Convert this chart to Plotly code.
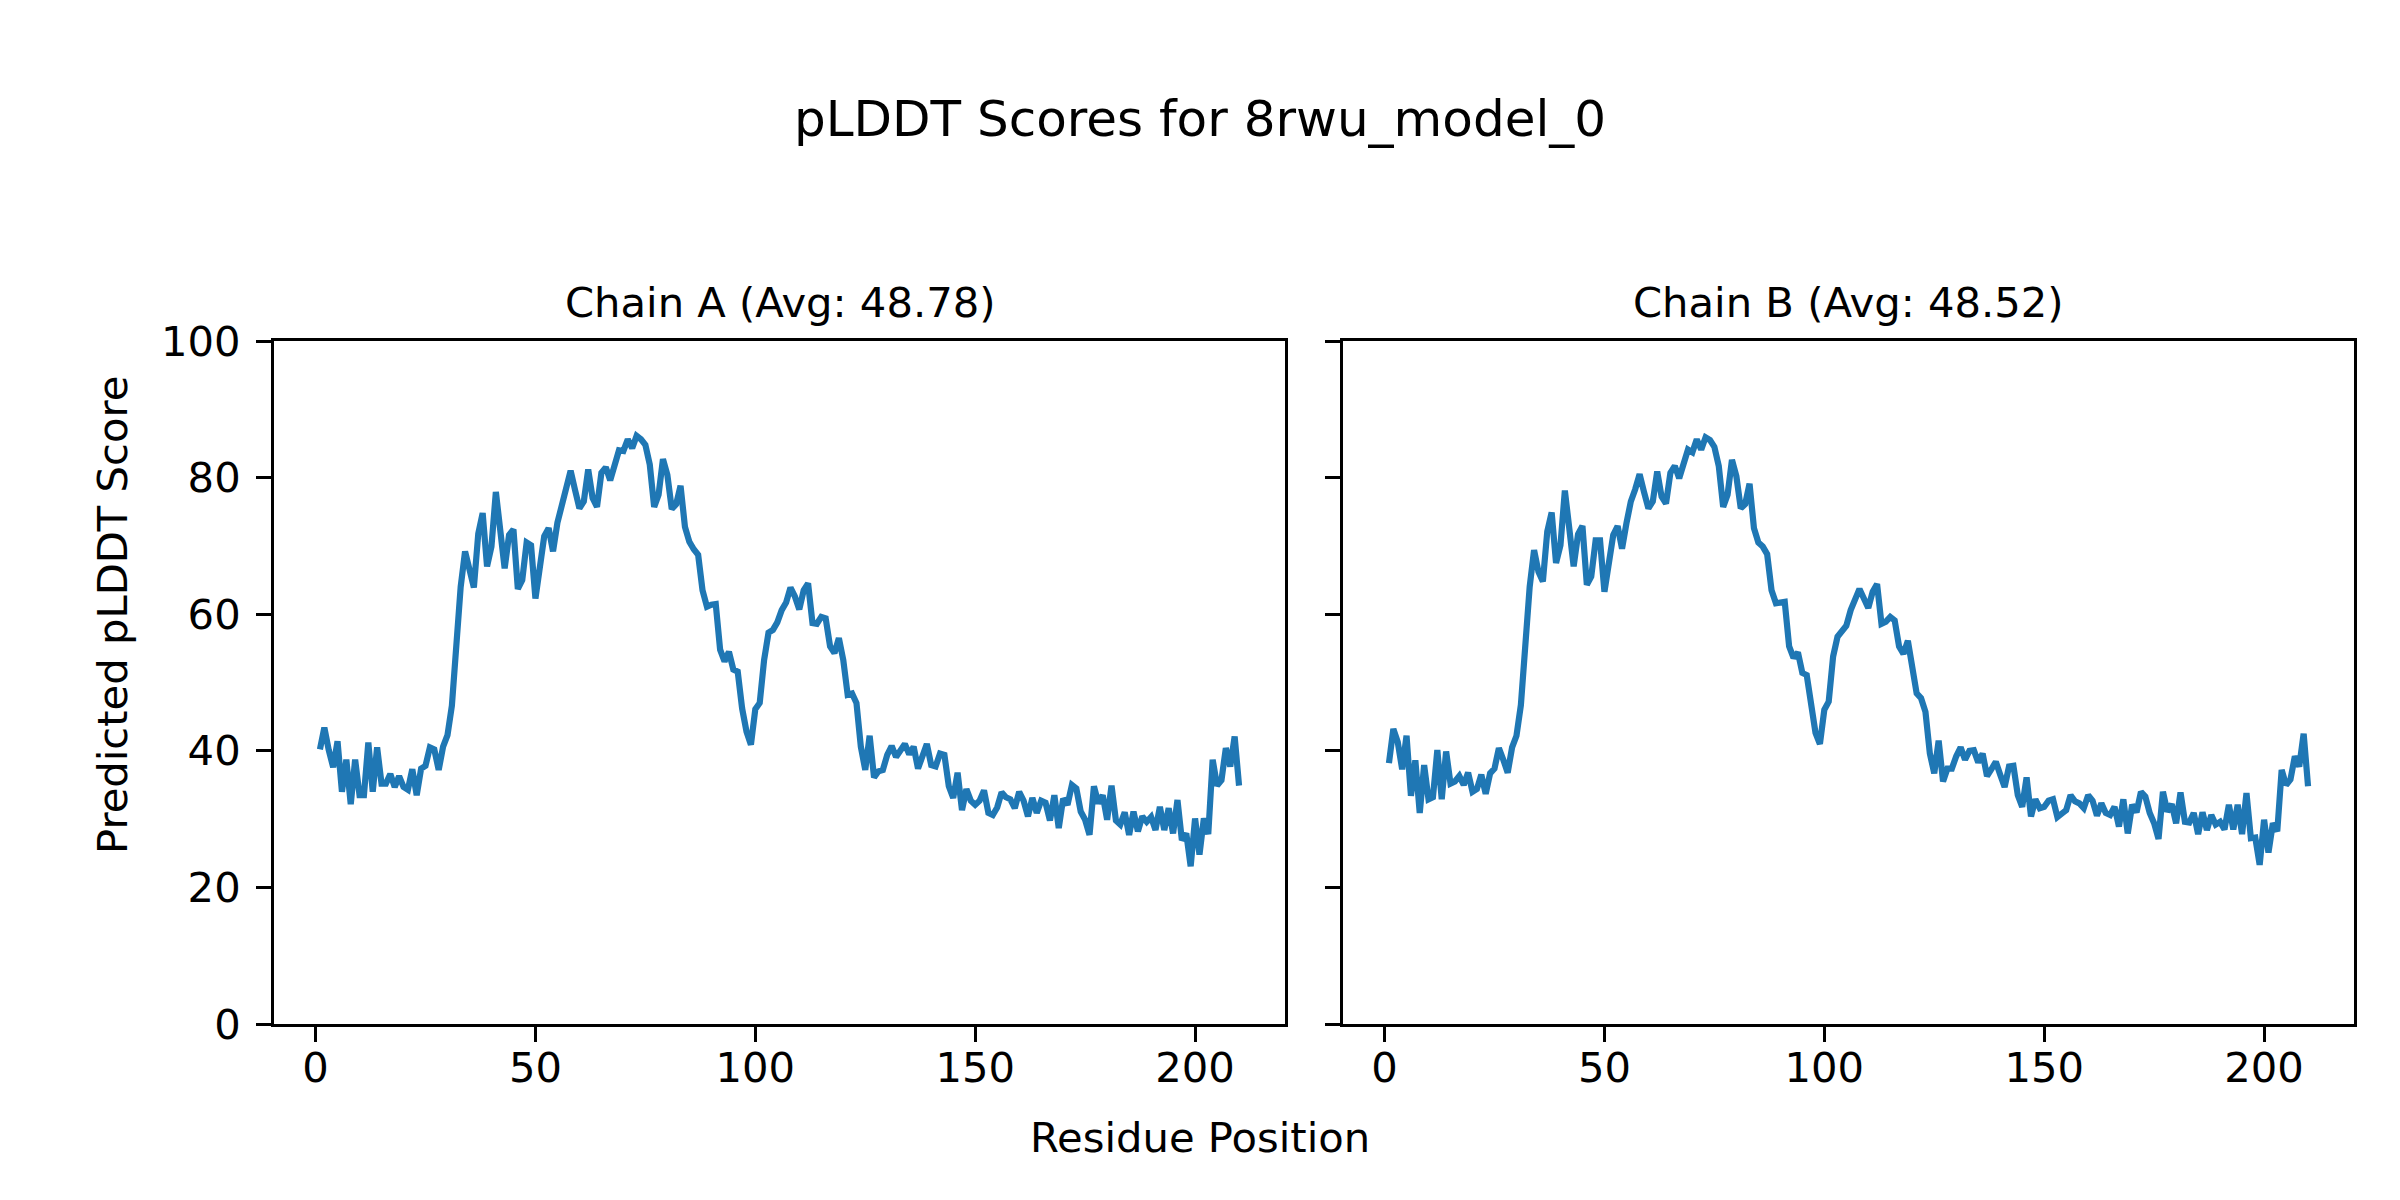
import plotly.graph_objects as go

residues = list(range(1, 211))

chain_a = [40.2, 43.4, 40.1, 37.6, 41.4, 34.0, 38.7, 32.2, 38.7, 33.5,
           33.5, 41.2, 34.0, 40.5, 35.2, 35.2, 36.6, 34.7, 36.3, 34.7,
           34.3, 37.3, 33.5, 37.4, 37.8, 40.5, 40.2, 37.2, 40.6, 42.3,
           46.6, 55.7, 64.0, 69.2, 66.0, 63.9, 71.8, 74.8, 67.0, 69.9,
           77.9, 72.3, 66.7, 71.6, 72.4, 63.7, 65.0, 70.5, 70.1, 62.3,
           67.0, 71.4, 72.6, 69.2, 73.4, 76.2, 78.4, 81.0, 78.2, 75.5,
           76.5, 81.2, 77.0, 75.7, 80.7, 81.5, 79.6, 82.1, 84.0, 83.9,
           85.6, 84.3, 86.1, 85.6, 84.8, 81.9, 75.7, 77.5, 82.7, 80.4,
           75.4, 76.1, 78.8, 72.8, 70.6, 69.5, 68.7, 63.5, 61.1, 61.4,
           61.5, 54.8, 53.1, 54.5, 51.9, 51.6, 46.2, 42.8, 40.9, 46.1,
           47.0, 53.3, 57.3, 57.7, 58.8, 60.6, 61.7, 63.9, 62.6, 60.7,
           63.5, 64.5, 58.7, 58.6, 59.6, 59.4, 55.3, 54.3, 56.5, 53.3,
           48.2, 48.4, 47.0, 40.6, 37.2, 42.2, 36.1, 37.0, 37.2, 39.4,
           40.7, 39.1, 39.9, 41.0, 39.5, 40.6, 37.4, 39.1, 41.0, 37.9,
           37.7, 39.6, 39.4, 34.8, 33.1, 36.8, 31.3, 34.4, 32.7, 32.1,
           32.7, 34.2, 30.9, 30.6, 31.7, 33.9, 33.2, 32.9, 31.6, 34.0,
           32.7, 30.4, 33.1, 30.9, 32.7, 32.4, 29.8, 33.5, 28.7, 33.0,
           32.1, 35.0, 34.5, 31.1, 29.9, 27.7, 34.8, 32.3, 33.5, 29.9,
           34.9, 29.8, 29.2, 31.0, 27.7, 31.1, 28.2, 30.4, 29.6, 30.3,
           28.4, 31.8, 28.4, 31.6, 27.9, 32.8, 26.9, 27.9, 23.1, 30.1,
           24.8, 30.1, 27.8, 38.7, 34.9, 35.7, 40.4, 37.7, 42.1, 34.9]

chain_b = [38.2, 43.2, 41.3, 37.3, 42.2, 33.4, 38.6, 30.9, 37.9, 32.9,
           33.2, 40.1, 32.9, 39.9, 35.2, 35.5, 36.3, 35.0, 36.8, 34.0,
           34.4, 36.5, 33.7, 36.7, 37.4, 40.4, 38.7, 36.8, 40.5, 42.2,
           46.7, 56.0, 64.0, 69.4, 66.2, 64.8, 72.1, 74.9, 67.5, 70.1,
           78.1, 72.6, 67.0, 71.7, 72.9, 64.3, 65.5, 70.8, 70.8, 63.3,
           67.5, 71.6, 72.9, 69.6, 73.3, 76.5, 78.3, 80.5, 77.9, 75.5,
           76.5, 80.9, 77.2, 76.2, 80.7, 81.7, 79.9, 82.3, 84.1, 83.7,
           85.6, 84.1, 85.9, 85.5, 84.5, 81.7, 75.7, 77.5, 82.6, 80.2,
           75.5, 76.1, 79.1, 72.6, 70.5, 69.9, 68.8, 63.5, 61.6, 61.7,
           61.8, 55.3, 53.6, 54.4, 51.4, 51.1, 46.0, 42.6, 41.0, 46.0,
           47.2, 53.8, 56.7, 57.5, 58.3, 60.6, 62.2, 63.7, 62.3, 60.9,
           63.3, 64.4, 58.6, 58.9, 59.6, 59.1, 55.3, 54.2, 56.1, 52.8,
           48.4, 47.7, 45.7, 39.6, 36.7, 41.5, 35.5, 37.4, 37.4, 39.2,
           40.5, 38.7, 40.0, 40.1, 38.3, 39.6, 36.3, 37.3, 38.4, 36.5,
           34.7, 37.7, 37.8, 33.5, 31.8, 36.1, 30.4, 32.9, 31.6, 31.8,
           32.7, 32.9, 30.3, 30.8, 31.3, 33.5, 32.6, 32.3, 31.6, 33.5,
           32.7, 30.5, 32.3, 30.9, 30.6, 31.8, 28.9, 32.9, 27.9, 32.1,
           31.0, 34.0, 33.3, 30.9, 29.4, 27.1, 34.0, 31.1, 32.2, 29.4,
           33.9, 29.6, 29.5, 30.9, 27.8, 31.0, 28.4, 30.6, 29.2, 29.6,
           28.5, 32.1, 28.5, 32.1, 27.8, 33.8, 27.2, 27.3, 23.3, 29.9,
           25.1, 29.4, 28.2, 37.2, 35.0, 35.8, 39.2, 37.7, 42.5, 34.8]

x_ticks = [0, 50, 100, 150, 200]
y_ticks = [0, 20, 40, 60, 80, 100]

title_text = "pLDDT Scores for 8rwu_model_0"
sub_a = "Chain A (Avg: 48.78)"
sub_b = "Chain B (Avg: 48.52)"
x_label = "Residue Position"
y_label = "Predicted pLDDT Score"

# page body has an 8px margin; compensate so the picture lines up
OFF = 8
W, H = 2400 - 2 * OFF, 1200 - 2 * OFF
FONT = "DejaVu Sans"
FS = 41.7
LINE = "#1f77b4"


def px_x(p):
    return (p - OFF) / W


def px_y(p):
    return 1 - (p - OFF) / H


fig = go.Figure()
fig.add_trace(go.Scatter(x=residues, y=chain_a, mode="lines",
                         line=dict(color=LINE, width=6.2),
                         xaxis="x", yaxis="y", showlegend=False))
fig.add_trace(go.Scatter(x=residues, y=chain_b, mode="lines",
                         line=dict(color=LINE, width=6.2),
                         xaxis="x2", yaxis="y2", showlegend=False))

ydom = [px_y(1024), px_y(341)]
xa_dom = [px_x(274), px_x(1285)]
xb_dom = [px_x(1343), px_x(2354)]

common = dict(showgrid=False, zeroline=False, showline=True, linecolor="black",
              linewidth=3, mirror=True, ticks="outside", ticklen=15, tickwidth=3,
              tickcolor="black", tickfont=dict(family=FONT, size=FS, color="black"),
              automargin=False)

xr = [-9.45, 220.45]
fig.update_layout(
    width=W, height=H,
    margin=dict(l=0, r=0, t=0, b=0),
    paper_bgcolor="white", plot_bgcolor="white",
    font=dict(family=FONT, size=FS, color="black"),
    xaxis=dict(domain=xa_dom, range=xr, tickvals=x_ticks, anchor="y",
               ticklabelstandoff=-10, **common),
    yaxis=dict(domain=ydom, range=[0, 100], tickvals=y_ticks, anchor="x",
               ticklabelstandoff=7, **common),
    xaxis2=dict(domain=xb_dom, range=xr, tickvals=x_ticks, anchor="y2",
                ticklabelstandoff=-10, **common),
    yaxis2=dict(domain=ydom, range=[0, 100], tickvals=y_ticks, anchor="x2",
                showticklabels=False, **common),
    annotations=[
        dict(text=title_text, x=px_x(1200), y=px_y(119), xref="paper", yref="paper",
             showarrow=False, xanchor="center", yanchor="middle",
             font=dict(family=FONT, size=50, color="black")),
        dict(text=sub_a, x=(xa_dom[0] + xa_dom[1]) / 2, y=px_y(303),
             xref="paper", yref="paper", showarrow=False,
             xanchor="center", yanchor="middle",
             font=dict(family=FONT, size=FS, color="black")),
        dict(text=sub_b, x=(xb_dom[0] + xb_dom[1]) / 2, y=px_y(303),
             xref="paper", yref="paper", showarrow=False,
             xanchor="center", yanchor="middle",
             font=dict(family=FONT, size=FS, color="black")),
        dict(text=x_label, x=px_x(1200), y=px_y(1137), xref="paper", yref="paper",
             showarrow=False, xanchor="center", yanchor="middle",
             font=dict(family=FONT, size=FS, color="black")),
        dict(text=y_label, x=px_x(112), y=px_y(615), xref="paper", yref="paper",
             showarrow=False, xanchor="center", yanchor="middle", textangle=-90,
             font=dict(family=FONT, size=FS, color="black")),
    ],
)

fig.write_html("out.html")
